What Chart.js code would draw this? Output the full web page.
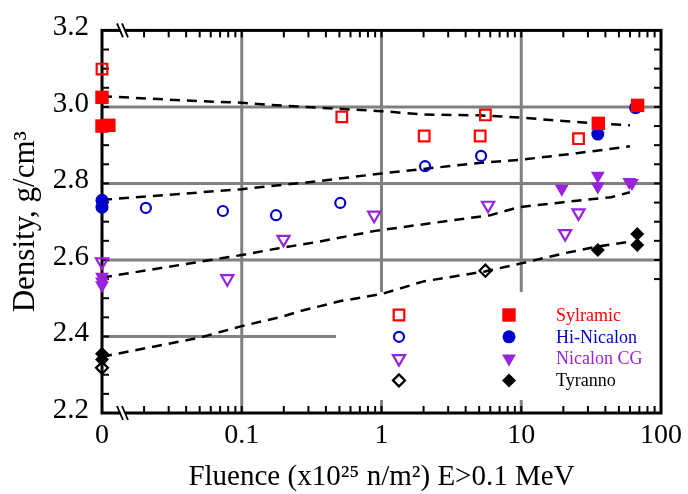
<!DOCTYPE html>
<html>
<head>
<meta charset="utf-8">
<script src="https://cdn.jsdelivr.net/npm/chart.js@4.4.0/dist/chart.umd.min.js"></script>
<style>
  body { margin: 0; background: #fff; }
  #wrap { width: 688px; height: 494px; }
</style>
</head>
<body>
<div id="wrap"><canvas id="c"></canvas></div>
<script>
// fluence "0" sits on the left edge of the log axis
const ZERO_AT = 0.01;

const xTicks = [0.01, 0.1, 1, 10, 100];
const xTickLabels = ['0', '0.1', '1', '10', '100'];
const xGrid = [0.1, 1, 10];
const yGrid = [2.4, 2.6, 2.8, 3.0];

// Sylramic
const sylOpenX = [0, 0.52, 2.02, 5.08, 5.54, 25.7];
const sylOpenY = [3.099, 2.974, 2.924, 2.924, 2.979, 2.917];
const sylFillX = [0, 0, 0.0112, 35.6, 68];
const sylFillY = [3.025, 2.950, 2.952, 2.957, 3.004];
const sylFitX = [0, 0.05, 0.1, 0.2, 0.5, 1, 2, 5, 10, 20, 35, 60];
const sylFitY = [3.028, 3.015, 3.011, 3.003, 2.995, 2.989, 2.980, 2.978, 2.972, 2.963, 2.957, 2.952];

// Hi-Nicalon
const hiOpenX = [0.0206, 0.0733, 0.176, 0.507, 2.05, 5.16];
const hiOpenY = [2.736, 2.728, 2.717, 2.749, 2.845, 2.872];
const hiFillX = [0, 0, 35.3, 65.8];
const hiFillY = [2.756, 2.738, 2.929, 2.998];
const hiFitX = [0, 0.1, 0.3, 1, 2, 5.5, 10, 25, 60];
const hiFitY = [2.757, 2.785, 2.803, 2.826, 2.838, 2.855, 2.862, 2.879, 2.897];

// Nicalon CG
const cgOpenX = [0, 0.0788, 0.199, 0.886, 5.79, 20.6, 25.7];
const cgOpenY = [2.595, 2.551, 2.654, 2.717, 2.743, 2.669, 2.723];
const cgFillX = [0, 0, 0, 19.5, 35.3, 35.3, 59.3, 62];
const cgFillY = [2.556, 2.544, 2.534, 2.786, 2.820, 2.792, 2.804, 2.801];
const cgFitX = [0, 0.1, 0.18, 0.36, 0.9, 1.3, 6, 9.6, 20, 44, 60];
const cgFitY = [2.554, 2.613, 2.630, 2.648, 2.676, 2.684, 2.717, 2.738, 2.751, 2.764, 2.777];

// Tyranno
const tyOpenX = [0, 5.54];
const tyOpenY = [2.318, 2.572];
const tyFillX = [0, 0, 35.3, 67.6, 67.6];
const tyFillY = [2.355, 2.340, 2.626, 2.668, 2.639];
const tyFitX = [0, 0.05, 0.1, 0.2, 0.26, 0.5, 1, 2, 5.5, 10, 20, 35, 60];
const tyFitY = [2.347, 2.397, 2.427, 2.453, 2.466, 2.492, 2.511, 2.544, 2.570, 2.591, 2.617, 2.635, 2.648];

const RED = '#ff0000', BLUE = '#0000cc', PURPLE = '#9922dd', BLACK = '#000000';
const SERIF = "'Liberation Serif', 'Times New Roman', serif";

const legendRows = [
  { name: 'Sylramic', color: RED, style: 'rect' },
  { name: 'Hi-Nicalon', color: BLUE, style: 'circle' },
  { name: 'Nicalon CG', color: PURPLE, style: 'triangle' },
  { name: 'Tyranno', color: BLACK, style: 'rectRot' }
];

const markOpen = {
  rect: { radius: 7.5, rotation: 0 },
  circle: { radius: 5, rotation: 0 },
  triangle: { radius: 7, rotation: 180 },
  rectRot: { radius: 6, rotation: 0 }
};
const markFill = {
  rect: { radius: 9.5, rotation: 0 },
  circle: { radius: 6.5, rotation: 0 },
  triangle: { radius: 8, rotation: 180 },
  rectRot: { radius: 7, rotation: 0 }
};

function pts(xs, ys) {
  return xs.map((v, i) => ({ x: v === 0 ? ZERO_AT : v, y: ys[i] }));
}

function openSet(label, xs, ys, color, style) {
  return {
    label, data: pts(xs, ys), pointStyle: style, clip: false,
    pointRadius: markOpen[style].radius, pointRotation: markOpen[style].rotation,
    pointBorderWidth: 2.2, borderColor: color, pointBorderColor: color,
    pointBackgroundColor: 'rgba(0,0,0,0)', showLine: false
  };
}
function fillSet(label, xs, ys, color, style) {
  return {
    label, data: pts(xs, ys), pointStyle: style, clip: false,
    pointRadius: markFill[style].radius, pointRotation: markFill[style].rotation,
    pointBorderWidth: 0, borderColor: color, pointBorderColor: color,
    pointBackgroundColor: color, showLine: false
  };
}
function fitSet(label, xs, ys) {
  return {
    label, data: pts(xs, ys), showLine: true, borderColor: BLACK,
    borderWidth: 2.5, borderDash: [10, 7], pointRadius: 0, fill: false, tension: 0
  };
}

function line(ctx, x1, y1, x2, y2) {
  ctx.beginPath(); ctx.moveTo(x1, y1); ctx.lineTo(x2, y2); ctx.stroke();
}

const framePlugin = {
  id: 'frame',
  beforeDatasetsDraw(chart) {
    const { ctx, chartArea: a, scales: { x, y } } = chart;
    ctx.save();
    // grid
    ctx.strokeStyle = '#808080';
    ctx.lineWidth = 3;
    xGrid.forEach(v => { const p = x.getPixelForValue(v); line(ctx, p, a.top, p, a.bottom); });
    yGrid.forEach(v => { const p = y.getPixelForValue(v); line(ctx, a.left, p, a.right, p); });

    // minor ticks, pointing inward
    ctx.strokeStyle = BLACK;
    ctx.lineWidth = 2;
    const tl = 7;
    for (let d = 0.01; d < 100; d *= 10) {
      for (let m = 2; m <= 10; m++) {
        const p = x.getPixelForValue(d * m);
        line(ctx, p, a.bottom, p, a.bottom - tl);
        line(ctx, p, a.top, p, a.top + tl);
      }
    }
    for (let k = 1; k < 20; k++) {
      const p = y.getPixelForValue(2.2 + k * 0.05);
      line(ctx, a.left, p, a.left + tl, p);
      line(ctx, a.right, p, a.right - tl, p);
    }

    // legend background
    ctx.fillStyle = '#ffffff';
    ctx.fillRect(336, 292, a.right - 336, 108);

    // frame
    ctx.strokeStyle = BLACK;
    ctx.lineWidth = 3;
    ctx.strokeRect(a.left, a.top, a.right - a.left, a.bottom - a.top);

    // axis break marks
    const bx = a.left + 21;
    [a.top, a.bottom].forEach(yy => {
      ctx.fillStyle = '#ffffff';
      ctx.beginPath();
      ctx.moveTo(bx - 5, yy - 7); ctx.lineTo(bx - 1, yy - 7);
      ctx.lineTo(bx + 5, yy + 7); ctx.lineTo(bx + 1, yy + 7);
      ctx.closePath(); ctx.fill();
      ctx.lineWidth = 1.8;
      line(ctx, bx - 6, yy - 7, bx, yy + 7);
      line(ctx, bx - 1, yy - 7, bx + 5, yy + 7);
    });
    ctx.restore();
  },
  afterDatasetsDraw(chart) {
    const { ctx } = chart;
    ctx.save();
    legendRows.forEach((r, i) => {
      const yy = 315 + i * 21.8;
      ctx.strokeStyle = r.color;
      ctx.fillStyle = 'rgba(0,0,0,0)';
      ctx.lineWidth = 2.2;
      Chart.helpers.drawPoint(ctx, {
        pointStyle: r.style, radius: markOpen[r.style].radius,
        rotation: markOpen[r.style].rotation, borderWidth: 2.2
      }, 399, yy);
      ctx.fillStyle = r.color;
      Chart.helpers.drawPoint(ctx, {
        pointStyle: r.style, radius: markFill[r.style].radius,
        rotation: markFill[r.style].rotation, borderWidth: 0
      }, 509, yy);
      ctx.font = '18px ' + SERIF;
      ctx.textBaseline = 'middle';
      ctx.textAlign = 'left';
      ctx.fillText(r.name, 556, yy + 1);
    });
    ctx.restore();
  }
};

new Chart(document.getElementById('c'), {
  type: 'scatter',
  data: {
    datasets: [
      fillSet('Sylramic', sylFillX, sylFillY, RED, 'rect'),
      openSet('Sylramic', sylOpenX, sylOpenY, RED, 'rect'),
      fillSet('Hi-Nicalon', hiFillX, hiFillY, BLUE, 'circle'),
      openSet('Hi-Nicalon', hiOpenX, hiOpenY, BLUE, 'circle'),
      fillSet('Nicalon CG', cgFillX, cgFillY, PURPLE, 'triangle'),
      openSet('Nicalon CG', cgOpenX, cgOpenY, PURPLE, 'triangle'),
      fillSet('Tyranno', tyFillX, tyFillY, BLACK, 'rectRot'),
      openSet('Tyranno', tyOpenX, tyOpenY, BLACK, 'rectRot'),
      fitSet('Sylramic fit', sylFitX, sylFitY),
      fitSet('Hi-Nicalon fit', hiFitX, hiFitY),
      fitSet('Nicalon CG fit', cgFitX, cgFitY),
      fitSet('Tyranno fit', tyFitX, tyFitY)
    ]
  },
  options: {
    responsive: true,
    maintainAspectRatio: false,
    animation: false,
    layout: { padding: { top: 27, right: 25, left: 0, bottom: 0 } },
    plugins: { legend: { display: false }, tooltip: { enabled: false } },
    scales: {
      x: {
        type: 'logarithmic',
        min: 0.01, max: 100,
        grid: { display: false, drawTicks: false },
        border: { display: false },
        afterBuildTicks: s => { s.ticks = xTicks.map(v => ({ value: v, major: true })); },
        afterFit: s => { s.height = 81; },
        ticks: {
          autoSkip: false, maxRotation: 0, padding: 6, color: BLACK,
          font: { family: SERIF, size: 28 },
          callback: v => xTickLabels[xTicks.indexOf(v)]
        },
        title: {
          display: true, text: 'Fluence (x10²⁵ n/m²) E>0.1 MeV', color: BLACK,
          font: { family: SERIF, size: 29, lineHeight: 1 },
          padding: { top: 0, bottom: 2 }
        }
      },
      y: {
        min: 2.2, max: 3.2,
        grid: { display: false, drawTicks: false },
        border: { display: false },
        afterFit: s => { s.width = 102; },
        ticks: {
          stepSize: 0.2, padding: 13, color: BLACK, labelOffset: -3,
          font: { family: SERIF, size: 29 },
          callback: v => v.toFixed(1)
        },
        title: {
          display: true, text: 'Density, g/cm³', color: BLACK,
          font: { family: SERIF, size: 31, lineHeight: 1 },
          padding: { top: 10, bottom: 0 }
        }
      }
    }
  },
  plugins: [framePlugin]
});
</script>
</body>
</html>
